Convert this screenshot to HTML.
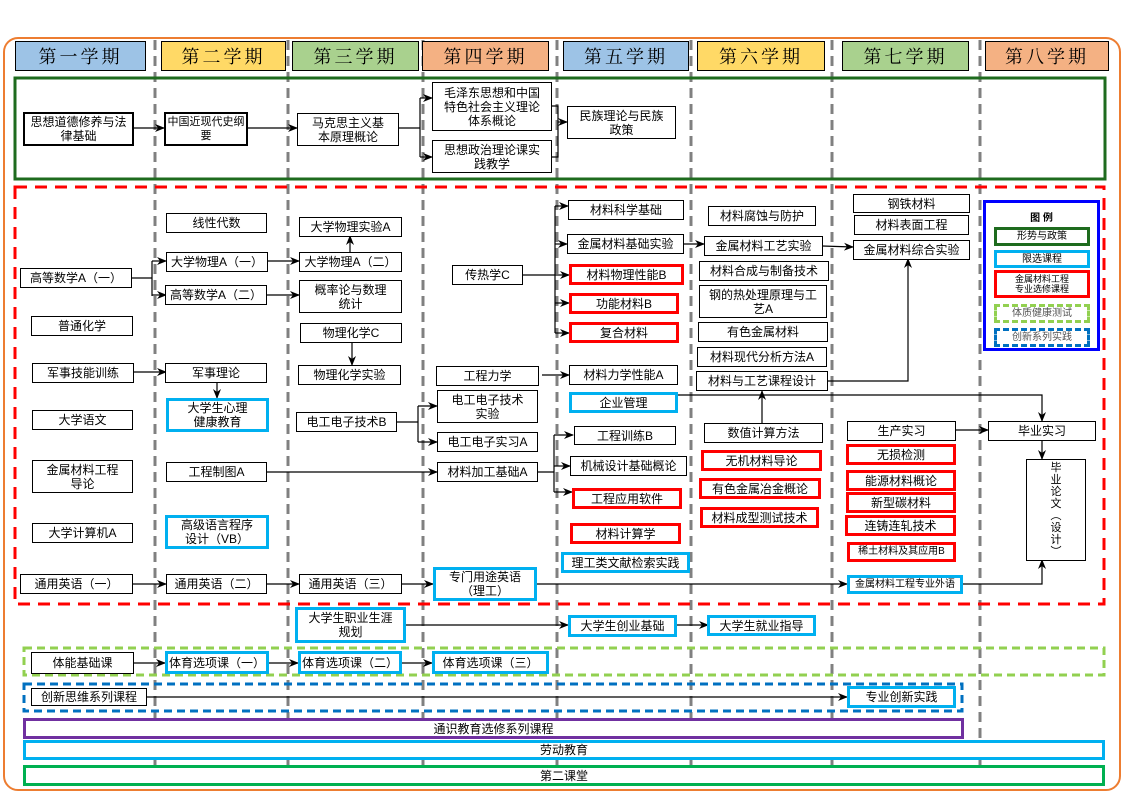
<!DOCTYPE html>
<html><head><meta charset="utf-8">
<style>
body{margin:0;width:1123px;height:794px;position:relative;background:#fff;overflow:hidden;font-family:"Liberation Sans","Noto Sans CJK SC",sans-serif;}
.b{position:absolute;box-sizing:border-box;border:1px solid #000;background:#fff;display:flex;align-items:center;justify-content:center;text-align:center;font-size:12px;line-height:14px;color:#000;z-index:2;}
.t{border-width:2px;}
.c{border:3px solid #00B0F0;}
.r{border:3px solid #FF0000;}
.h{position:absolute;box-sizing:border-box;border:1px solid #000;display:flex;align-items:center;justify-content:center;font-family:"Noto Serif CJK SC","Liberation Serif",serif;font-size:18px;letter-spacing:3px;top:41px;height:30px;z-index:2;}
.s{font-size:10px;}
svg{position:absolute;left:0;top:0;}
</style></head><body>
<svg width="1123" height="794" style="z-index:1">
<defs><marker id="a" markerWidth="10" markerHeight="8" refX="9" refY="4" orient="auto" markerUnits="userSpaceOnUse"><path d="M0,0 L10,4 L0,8 L3,4z" fill="#000"/></marker></defs>
<rect x="4" y="38" width="1116" height="752" rx="14" fill="none" stroke="#ED7D31" stroke-width="2"/>
<g stroke="#808080" stroke-width="3" stroke-dasharray="10,6">
<line x1="155" y1="40" x2="155" y2="790"/><line x1="288" y1="40" x2="288" y2="790"/><line x1="423" y1="40" x2="423" y2="790"/><line x1="557" y1="40" x2="557" y2="790"/><line x1="691" y1="40" x2="691" y2="790"/><line x1="832" y1="40" x2="832" y2="790"/><line x1="980" y1="40" x2="980" y2="790"/>
</g>
<rect x="15" y="78" width="1090" height="101" fill="none" stroke="#1E6B1E" stroke-width="3"/>
<rect x="15" y="187" width="1089" height="417" fill="none" stroke="#FF0000" stroke-width="3" stroke-dasharray="12,8"/>
<rect x="24" y="648" width="1080" height="27" fill="none" stroke="#92D050" stroke-width="3" stroke-dasharray="8,5"/>
<rect x="24" y="684" width="938" height="27" fill="none" stroke="#0070C0" stroke-width="3" stroke-dasharray="8,5"/>
<g stroke="#000" stroke-width="1.2" fill="none">
<line x1="133" y1="128" x2="164" y2="128" marker-end="url(#a)"/>
<line x1="247" y1="128" x2="297" y2="128" marker-end="url(#a)"/>
<polyline points="398,128 420,128"/><line x1="420" y1="98" x2="420" y2="157"/>
<line x1="420" y1="98" x2="432" y2="98" marker-end="url(#a)"/><line x1="420" y1="157" x2="432" y2="157" marker-end="url(#a)"/>
<polyline points="551,106 558,106 558,157 551,157"/><line x1="558" y1="122" x2="567" y2="122" marker-end="url(#a)"/>
<line x1="132" y1="278" x2="152" y2="278"/><line x1="152" y1="261" x2="152" y2="296"/>
<line x1="152" y1="261" x2="166" y2="261" marker-end="url(#a)"/><line x1="152" y1="295" x2="166" y2="295" marker-end="url(#a)"/>
<line x1="268" y1="261" x2="299" y2="261" marker-end="url(#a)"/>
<line x1="266" y1="295" x2="299" y2="295" marker-end="url(#a)"/>
<line x1="350" y1="252" x2="350" y2="236" marker-end="url(#a)"/>
<line x1="352" y1="343" x2="352" y2="365" marker-end="url(#a)"/>
<line x1="133" y1="372" x2="166" y2="372" marker-end="url(#a)"/>
<line x1="217" y1="382" x2="217" y2="398" marker-end="url(#a)"/>
<line x1="396" y1="422" x2="418" y2="422"/><line x1="418" y1="406" x2="418" y2="442"/>
<line x1="418" y1="406" x2="437" y2="406" marker-end="url(#a)"/><line x1="418" y1="442" x2="437" y2="442" marker-end="url(#a)"/>
<line x1="266" y1="472" x2="437" y2="472" marker-end="url(#a)"/>
<line x1="537" y1="472" x2="554" y2="472"/><line x1="554" y1="435" x2="554" y2="492"/>
<line x1="554" y1="435" x2="573" y2="435" marker-end="url(#a)"/><line x1="554" y1="466" x2="570" y2="466" marker-end="url(#a)"/><line x1="554" y1="492" x2="572" y2="492" marker-end="url(#a)"/>
<line x1="522" y1="275" x2="555" y2="275"/><line x1="555" y1="206" x2="555" y2="333"/>
<line x1="555" y1="206" x2="568" y2="206" marker-end="url(#a)"/><line x1="555" y1="244" x2="567" y2="244" marker-end="url(#a)"/><line x1="555" y1="275" x2="569" y2="275" marker-end="url(#a)"/><line x1="555" y1="303" x2="569" y2="303" marker-end="url(#a)"/><line x1="555" y1="333" x2="569" y2="333" marker-end="url(#a)"/>
<line x1="542" y1="375" x2="569" y2="375" marker-end="url(#a)"/>
<line x1="683" y1="244" x2="704" y2="244" marker-end="url(#a)"/>
<line x1="822" y1="246" x2="853" y2="247" marker-end="url(#a)"/>
<polyline points="827,381 908,381 908,259" marker-end="url(#a)"/>
<line x1="762" y1="423" x2="762" y2="391" marker-end="url(#a)"/>
<polyline points="678,395 1042,395 1042,421" marker-end="url(#a)"/>
<line x1="955" y1="430" x2="988" y2="430" marker-end="url(#a)"/>
<line x1="1042" y1="440" x2="1042" y2="459" marker-end="url(#a)"/>
<line x1="132" y1="584" x2="166" y2="584" marker-end="url(#a)"/>
<line x1="266" y1="584" x2="299" y2="584" marker-end="url(#a)"/>
<line x1="401" y1="584" x2="433" y2="584" marker-end="url(#a)"/>
<line x1="536" y1="584" x2="847" y2="584" marker-end="url(#a)"/>
<polyline points="962,584 1042,584 1042,560" marker-end="url(#a)"/>
<line x1="405" y1="625" x2="568" y2="625" marker-end="url(#a)"/>
<line x1="676" y1="625" x2="708" y2="625" marker-end="url(#a)"/>
<line x1="133" y1="663" x2="165" y2="663" marker-end="url(#a)"/>
<line x1="268" y1="663" x2="298" y2="663" marker-end="url(#a)"/>
<line x1="401" y1="663" x2="432" y2="663" marker-end="url(#a)"/>
<line x1="146" y1="697" x2="847" y2="697" marker-end="url(#a)"/>
</g>
</svg>

<div class="h" style="left:15px;width:131px;background:#9DC3E6">第一学期</div>
<div class="h" style="left:161px;width:125px;background:#FFD966">第二学期</div>
<div class="h" style="left:292px;width:127px;background:#A9D18E">第三学期</div>
<div class="h" style="left:422px;width:127px;background:#F4B183">第四学期</div>
<div class="h" style="left:563px;width:126px;background:#9DC3E6">第五学期</div>
<div class="h" style="left:697px;width:128px;background:#FFD966">第六学期</div>
<div class="h" style="left:842px;width:127px;background:#A9D18E">第七学期</div>
<div class="h" style="left:985px;width:124px;background:#F4B183">第八学期</div>

<div class="b t" style="left:23px;top:112px;width:111px;height:34px">思想道德修养与法<br>律基础</div>
<div class="b t" style="left:164px;top:112px;width:84px;height:34px;font-size:11px;white-space:nowrap">中国近现代史纲<br>要</div>
<div class="b" style="left:297px;top:113px;width:102px;height:33px">马克思主义基<br>本原理概论</div>
<div class="b" style="left:432px;top:82px;width:120px;height:49px">毛泽东思想和中国<br>特色社会主义理论<br>体系概论</div>
<div class="b" style="left:432px;top:140px;width:120px;height:33px">思想政治理论课实<br>践教学</div>
<div class="b" style="left:567px;top:106px;width:109px;height:33px">民族理论与民族<br>政策</div>

<div class="b" style="left:166px;top:213px;width:101px;height:20px">线性代数</div>
<div class="b" style="left:299px;top:217px;width:103px;height:20px">大学物理实验A</div>
<div class="b" style="left:166px;top:252px;width:102px;height:20px">大学物理A（一）</div>
<div class="b" style="left:299px;top:252px;width:103px;height:20px">大学物理A（二）</div>
<div class="b" style="left:20px;top:268px;width:112px;height:20px">高等数学A（一）</div>
<div class="b" style="left:165px;top:285px;width:102px;height:20px">高等数学A（二）</div>
<div class="b" style="left:299px;top:280px;width:103px;height:33px">概率论与数理<br>统计</div>
<div class="b" style="left:300px;top:323px;width:102px;height:20px">物理化学C</div>
<div class="b" style="left:298px;top:365px;width:103px;height:20px">物理化学实验</div>
<div class="b" style="left:31px;top:316px;width:102px;height:20px">普通化学</div>
<div class="b" style="left:32px;top:363px;width:102px;height:20px">军事技能训练</div>
<div class="b" style="left:165px;top:363px;width:102px;height:20px">军事理论</div>
<div class="b c" style="left:166px;top:398px;width:103px;height:34px">大学生心理<br>健康教育</div>
<div class="b" style="left:32px;top:410px;width:101px;height:20px">大学语文</div>
<div class="b" style="left:296px;top:412px;width:101px;height:20px">电工电子技术B</div>
<div class="b" style="left:32px;top:460px;width:101px;height:33px">金属材料工程<br>导论</div>
<div class="b" style="left:166px;top:462px;width:101px;height:20px">工程制图A</div>
<div class="b" style="left:32px;top:523px;width:101px;height:20px">大学计算机A</div>
<div class="b c" style="left:165px;top:515px;width:104px;height:34px">高级语言程序<br>设计（VB）</div>
<div class="b" style="left:20px;top:574px;width:113px;height:20px">通用英语（一）</div>
<div class="b" style="left:166px;top:574px;width:101px;height:20px">通用英语（二）</div>
<div class="b" style="left:299px;top:574px;width:103px;height:20px">通用英语（三）</div>
<div class="b c" style="left:433px;top:567px;width:104px;height:34px">专门用途英语<br>（理工）</div>

<div class="b" style="left:452px;top:265px;width:71px;height:20px">传热学C</div>
<div class="b" style="left:436px;top:366px;width:103px;height:20px">工程力学</div>
<div class="b" style="left:437px;top:390px;width:101px;height:33px">电工电子技术<br>实验</div>
<div class="b" style="left:437px;top:432px;width:101px;height:20px">电工电子实习A</div>
<div class="b" style="left:437px;top:462px;width:101px;height:20px">材料加工基础A</div>

<div class="b" style="left:568px;top:200px;width:116px;height:20px">材料科学基础</div>
<div class="b" style="left:567px;top:234px;width:117px;height:20px">金属材料基础实验</div>
<div class="b r" style="left:569px;top:264px;width:115px;height:21px">材料物理性能B</div>
<div class="b r" style="left:569px;top:293px;width:110px;height:21px">功能材料B</div>
<div class="b r" style="left:569px;top:322px;width:110px;height:21px">复合材料</div>
<div class="b" style="left:569px;top:365px;width:109px;height:20px">材料力学性能A</div>
<div class="b c" style="left:569px;top:392px;width:109px;height:21px">企业管理</div>
<div class="b" style="left:574px;top:426px;width:102px;height:19px">工程训练B</div>
<div class="b" style="left:570px;top:456px;width:117px;height:20px">机械设计基础概论</div>
<div class="b r" style="left:572px;top:488px;width:110px;height:21px">工程应用软件</div>
<div class="b r" style="left:570px;top:523px;width:111px;height:21px">材料计算学</div>
<div class="b c" style="left:561px;top:552px;width:129px;height:21px">理工类文献检索实践</div>
<div class="b c" style="left:568px;top:615px;width:109px;height:22px">大学生创业基础</div>

<div class="b" style="left:708px;top:206px;width:108px;height:20px">材料腐蚀与防护</div>
<div class="b" style="left:704px;top:236px;width:119px;height:20px">金属材料工艺实验</div>
<div class="b" style="left:699px;top:261px;width:130px;height:20px">材料合成与制备技术</div>
<div class="b" style="left:699px;top:285px;width:128px;height:33px">钢的热处理原理与工<br>艺A</div>
<div class="b" style="left:698px;top:322px;width:130px;height:20px">有色金属材料</div>
<div class="b" style="left:697px;top:347px;width:130px;height:20px">材料现代分析方法A</div>
<div class="b" style="left:696px;top:371px;width:132px;height:20px">材料与工艺课程设计</div>
<div class="b" style="left:704px;top:423px;width:119px;height:20px">数值计算方法</div>
<div class="b r" style="left:701px;top:450px;width:121px;height:21px">无机材料导论</div>
<div class="b r" style="left:699px;top:478px;width:122px;height:21px">有色金属冶金概论</div>
<div class="b r" style="left:700px;top:507px;width:119px;height:21px">材料成型测试技术</div>
<div class="b c" style="left:707px;top:615px;width:109px;height:21px">大学生就业指导</div>

<div class="b" style="left:853px;top:194px;width:117px;height:19px">钢铁材料</div>
<div class="b" style="left:854px;top:215px;width:115px;height:20px">材料表面工程</div>
<div class="b" style="left:853px;top:240px;width:117px;height:20px">金属材料综合实验</div>
<div class="b" style="left:847px;top:421px;width:109px;height:20px">生产实习</div>
<div class="b r" style="left:846px;top:444px;width:110px;height:21px">无损检测</div>
<div class="b r" style="left:846px;top:470px;width:110px;height:21px">能源材料概论</div>
<div class="b r" style="left:846px;top:492px;width:110px;height:21px">新型碳材料</div>
<div class="b r" style="left:845px;top:515px;width:111px;height:21px">连铸连轧技术</div>
<div class="b r s" style="left:847px;top:542px;width:109px;height:20px">稀土材料及其应用B</div>
<div class="b c s" style="left:847px;top:575px;width:116px;height:19px">金属材料工程专业外语</div>
<div class="b c" style="left:847px;top:686px;width:109px;height:22px">专业创新实践</div>

<div class="b" style="left:988px;top:421px;width:108px;height:20px">毕业实习</div>
<div class="b" style="left:1026px;top:459px;width:60px;height:102px;font-size:11px;line-height:12px">毕<br>业<br>论<br>文<br>︵<br>设<br>计<br>︶</div>

<div style="position:absolute;left:983px;top:200px;width:117px;height:151px;box-sizing:border-box;border:3px solid #0000FF;background:#fff;z-index:2;font-size:10px">
<div style="position:absolute;left:0;right:0;top:6px;text-align:center;font-weight:bold">图 例</div>
<div class="b" style="left:8px;top:24px;width:96px;height:19px;border:3px solid #1E6B1E;font-size:10px;line-height:11px">形势与政策</div>
<div class="b" style="left:8px;top:47px;width:96px;height:18px;border:3px solid #00B0F0;font-size:10px;line-height:11px">限选课程</div>
<div class="b" style="left:8px;top:67px;width:96px;height:28px;border:3px solid #f00;font-size:9px;line-height:10px">金属材料工程<br>专业选修课程</div>
<div class="b" style="left:8px;top:101px;width:96px;height:19px;border:3px dashed #92D050;font-size:10px;line-height:11px;color:#555">体质健康测试</div>
<div class="b" style="left:8px;top:125px;width:96px;height:19px;border:3px dashed #0070C0;font-size:10px;line-height:11px;color:#555">创新系列实践</div>
</div>

<div class="b c" style="left:295px;top:607px;width:111px;height:36px">大学生职业生涯<br>规划</div>
<div class="b" style="left:31px;top:652px;width:103px;height:22px">体能基础课</div>
<div class="b c" style="left:165px;top:651px;width:104px;height:23px">体育选项课（一）</div>
<div class="b c" style="left:298px;top:651px;width:104px;height:23px">体育选项课（二）</div>
<div class="b c" style="left:432px;top:651px;width:117px;height:23px">体育选项课（三）</div>
<div class="b" style="left:31px;top:688px;width:116px;height:18px">创新思维系列课程</div>
<div class="b" style="left:23px;top:718px;width:941px;height:21px;border:3px solid #7030A0">通识教育选修系列课程</div>
<div class="b" style="left:23px;top:740px;width:1082px;height:20px;border:3px solid #00B0F0">劳动教育</div>
<div class="b" style="left:23px;top:765px;width:1082px;height:21px;border:3px solid #00B050">第二课堂</div>
</body></html>
